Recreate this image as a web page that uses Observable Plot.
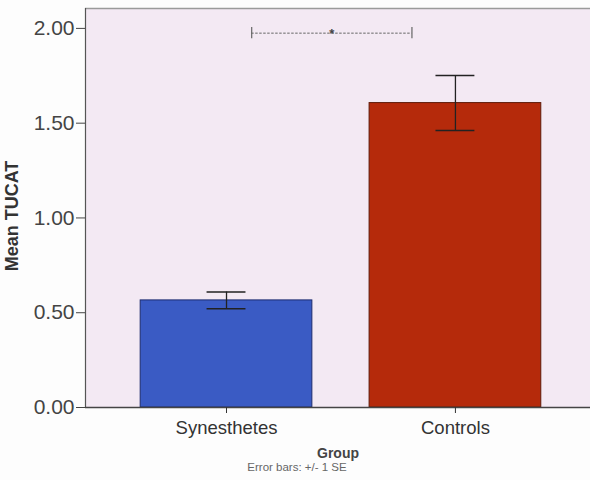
<!DOCTYPE html>
<html><head><meta charset="utf-8">
<script src="https://cdn.jsdelivr.net/npm/d3@7"></script>
<script src="https://cdn.jsdelivr.net/npm/@observablehq/plot@0.6"></script>
<style>
html,body{margin:0;padding:0;background:#fdfdfd;overflow:hidden;}
svg{font-family:"Liberation Sans", Arial, sans-serif;}
</style>
</head><body><div id="chart"></div>
<script>
// ---- data ----
const groups = ["Synesthetes", "Controls"];
const means = [0.565, 1.606];
const standardErrors = [0.044, 0.145];
const barColors = ["#3a5bc4", "#b52a0b"];
const barStrokes = ["#1d2c6e", "#5e1a08"];
const yTicks = [0, 0.5, 1, 1.5, 2];
const yLabel = "Mean TUCAT";
const xLabel = "Group";
const captionText = "Error bars: +/- 1 SE";
const sigLabel = "*";
// significance bracket, in group-index units along x
const sigFrom = [0.11];
const sigTo = [0.81];
const sigY = [1.975];

// ---- build table ----
const rows = groups.map((g, i) => ({group: g, i, mean: means[i], se: standardErrors[i], fill: barColors[i], stroke: barStrokes[i]}));
const halfBar = 0.375, halfCap = 0.085;
const xDomain = [-0.616, 1.59];
const yDomain = [0, 2.105];
const sig = sigFrom.map((f, k) => ({from: f, to: sigTo[k], y: sigY[k], mid: (f + sigTo[k]) / 2}));

const chart = Plot.plot({
  width: 590,
  height: 480,
  marginLeft: 85,
  marginRight: 0,
  marginTop: 8,
  marginBottom: 73,
  style: {background: "#fdfdfd", fontFamily: "'Liberation Sans', Arial, sans-serif"},
  x: {domain: xDomain, axis: null},
  y: {domain: yDomain, axis: null},
  marks: [
    Plot.frame({fill: "#f3e9f3", stroke: "none"}),
    Plot.ruleY([yDomain[1]], {stroke: "#9a9a9a", strokeWidth: 1.5}),
    Plot.ruleX([xDomain[0]], {stroke: "#555", strokeWidth: 1.2}),
    Plot.rectY(rows, {x1: d => d.i - halfBar, x2: d => d.i + halfBar, y1: 0, y2: "mean", fill: "fill", stroke: "stroke", strokeWidth: 1}),
    Plot.ruleX(rows, {x: "i", y1: d => d.mean - d.se, y2: d => d.mean + d.se, stroke: "#222", strokeWidth: 1.3}),
    Plot.ruleY(rows, {y: d => d.mean + d.se, x1: d => d.i - halfCap, x2: d => d.i + halfCap, stroke: "#222", strokeWidth: 1.5}),
    Plot.ruleY(rows, {y: d => d.mean - d.se, x1: d => d.i - halfCap, x2: d => d.i + halfCap, stroke: "#222", strokeWidth: 1.5}),
    Plot.ruleY([0], {stroke: "#444", strokeWidth: 1.3}),
    Plot.axisY({ticks: yTicks, tickFormat: ".2f", tickSize: 9, tickPadding: 2, fontSize: 21, color: "#444", label: null}),
    Plot.axisX({ticks: rows.map(d => d.i), tickFormat: i => groups[i], tickSize: 6, tickPadding: 7, fontSize: 18.5, color: "#333", label: null}),
    // significance bracket
    Plot.ruleY(sig, {y: "y", x1: "from", x2: "to", stroke: "#666", strokeWidth: 1, strokeDasharray: "2.5,1.5"}),
    Plot.ruleX(sig, {x: "from", y1: d => d.y - 0.03, y2: d => d.y + 0.03, stroke: "#666", strokeWidth: 1.2}),
    Plot.ruleX(sig, {x: "to", y1: d => d.y - 0.03, y2: d => d.y + 0.03, stroke: "#666", strokeWidth: 1.2}),
    Plot.text(sig, {x: "mid", y: "y", text: () => sigLabel, dy: 1, fontSize: 13, fontWeight: "bold", fill: "#444", lineAnchor: "middle"}),
    // titles
    Plot.text([yLabel], {frameAnchor: "left", textAnchor: "middle", dx: -73, dy: 8, rotate: -90, fontSize: 18, fontWeight: "bold", fill: "#333"}),
    Plot.text([xLabel], {frameAnchor: "bottom", dy: 50, fontSize: 14, fontWeight: "bold", fill: "#444"}),
    Plot.text([captionText], {frameAnchor: "bottom", dx: -41, dy: 63, fontSize: 11.5, fill: "#666"})
  ]
});
document.getElementById("chart").appendChild(chart);
</script>
</body></html>
